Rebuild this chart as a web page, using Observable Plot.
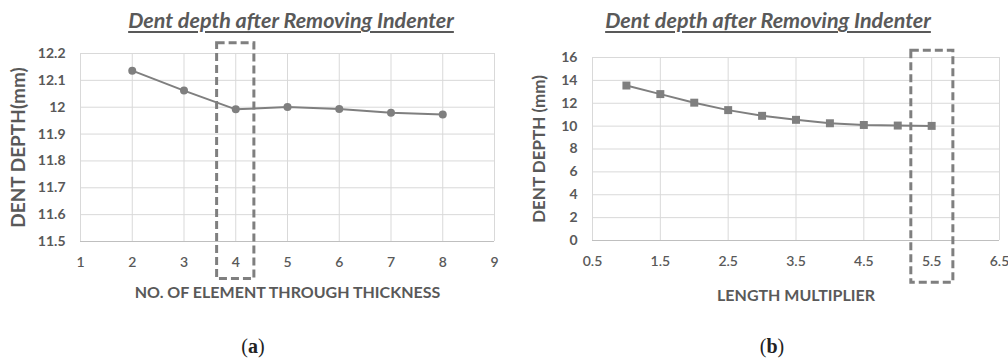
<!DOCTYPE html>
<html>
<head>
<meta charset="utf-8">
<script src="https://cdn.jsdelivr.net/npm/d3@7"></script>
<script src="https://cdn.jsdelivr.net/npm/@observablehq/plot@0.6"></script>
<style>
  html, body { margin: 0; padding: 0; background: #fff; }
  #root { position: relative; width: 1008px; height: 360px; overflow: hidden; background: #fff; }
  .panel { position: absolute; top: 0; }
  .title { position: absolute; transform: translateX(-50%); white-space: nowrap;
           font-family: Lato, "Open Sans", sans-serif; font-weight: bold; font-style: italic;
           font-size: 21.5px; line-height: 22px; color: #595959; text-decoration: underline;
           text-decoration-thickness: 1.5px; text-underline-offset: 3px; }
  .cap { position: absolute; transform: translateX(-50%); white-space: nowrap;
         font-family: "Liberation Serif", "DejaVu Serif", serif; font-size: 20px; line-height: 20px; color: #222; }
</style>
</head>
<body>
<div id="root"></div>
<script>
// ---------- Data (a) ----------
const titleA = "Dent depth after Removing Indenter";
const xLabelA = "NO. OF ELEMENT THROUGH THICKNESS";
const yLabelA = "DENT DEPTH(mm)";
const elementsA = [2, 3, 4, 5, 6, 7, 8];
const depthA = [12.136, 12.062, 11.992, 12.001, 11.993, 11.979, 11.973];
const xTicksA = [1, 2, 3, 4, 5, 6, 7, 8, 9];
const yTicksA = [11.5, 11.6, 11.7, 11.8, 11.9, 12, 12.1, 12.2];
const boxA = [{x1: 3.64, x2: 4.36, y1: 11.36, y2: 12.238}];
const captionA = "a";

// ---------- Data (b) ----------
const titleB = "Dent depth after Removing Indenter";
const xLabelB = "LENGTH MULTIPLIER";
const yLabelB = "DENT DEPTH (mm)";
const multiplierB = [1, 1.5, 2, 2.5, 3, 3.5, 4, 4.5, 5, 5.5];
const depthB = [13.55, 12.8, 12.05, 11.4, 10.9, 10.55, 10.25, 10.1, 10.05, 10.02];
const xTicksB = [0.5, 1.5, 2.5, 3.5, 4.5, 5.5, 6.5];
const yTicksB = [0, 2, 4, 6, 8, 10, 12, 14, 16];
const boxB = [{x1: 5.2, x2: 5.82, y1: -3.69, y2: 16.58}];
const captionB = "b";

const gridColor = "#d9d9d9";
const axisColor = "#bfbfbf";
const seriesColor = "#7f7f7f";
const textColor = "#595959";

function panel({xs, ys, xTicks, yTicks, xDomain, yDomain, box, symbol, r, xLabel, yLabel,
                width, margins, yLabelDx, xLabelDy, yLabelSize}) {
  const data = xs.map((x, i) => ({x, y: ys[i]}));
  return Plot.plot({
    width, height: 360,
    marginLeft: margins[0], marginRight: margins[1], marginTop: margins[2], marginBottom: margins[3],
    style: {fontFamily: "Lato, 'Open Sans', sans-serif", fontSize: "14px", color: textColor, background: "transparent", overflow: "visible"},
    x: {domain: xDomain},
    y: {domain: yDomain},
    marks: [
      Plot.gridX(xTicks, {stroke: gridColor, strokeOpacity: 1, strokeWidth: 1}),
      Plot.gridY(yTicks, {stroke: gridColor, strokeOpacity: 1, strokeWidth: 1}),
      Plot.ruleY([yDomain[0]], {stroke: axisColor, strokeWidth: 1.2}),
      Plot.axisX(xTicks, {tickSize: 0, tickPadding: 16, tickFormat: d => String(d), fill: textColor, fontSize: 14, fontWeight: 600, label: null}),
      Plot.axisY(yTicks, {tickSize: 0, tickPadding: 15, tickFormat: d => String(d), fill: textColor, fontSize: 14, fontWeight: "bold", label: null}),
      Plot.text([xLabel], {frameAnchor: "bottom", dy: xLabelDy, text: d => d, fill: textColor, fontWeight: "bold", fontSize: 16}),
      Plot.text([yLabel], {frameAnchor: "left", textAnchor: "middle", dx: yLabelDx, rotate: -90, text: d => d, fill: textColor, fontWeight: "bold", fontSize: yLabelSize}),
      Plot.line(data, {x: "x", y: "y", stroke: seriesColor, strokeWidth: 2}),
      Plot.dot(data, {x: "x", y: "y", r, symbol, fill: seriesColor, stroke: "none"}),
      Plot.rect(box, {x1: "x1", x2: "x2", y1: "y1", y2: "y2", fill: "none", stroke: seriesColor, strokeWidth: 3, strokeDasharray: "8,4"})
    ]
  });
}

const root = document.getElementById("root");

const plotA = panel({
  xs: elementsA, ys: depthA, xTicks: xTicksA, yTicks: yTicksA,
  xDomain: [1, 9], yDomain: [11.5, 12.2], box: boxA, symbol: "circle", r: 4,
  xLabel: xLabelA, yLabel: yLabelA, width: 504, margins: [80, 10, 53, 119],
  yLabelDx: -62, xLabelDy: 56, yLabelSize: 19
});
const divA = document.createElement("div");
divA.className = "panel"; divA.style.left = "0px";
divA.appendChild(plotA);
root.appendChild(divA);

const plotB = panel({
  xs: multiplierB, ys: depthB, xTicks: xTicksB, yTicks: yTicksB,
  xDomain: [0.5, 6.5], yDomain: [0, 16], box: boxB, symbol: "square", r: 4.5,
  xLabel: xLabelB, yLabel: yLabelB, width: 504, margins: [88, 9, 57, 120],
  yLabelDx: -53, xLabelDy: 60, yLabelSize: 17
});
const divB = document.createElement("div");
divB.className = "panel"; divB.style.left = "504px";
divB.appendChild(plotB);
root.appendChild(divB);

function addText(cls, text, left, top, html) {
  const d = document.createElement("div");
  d.className = cls;
  d.style.left = left + "px";
  d.style.top = top + "px";
  if (html) d.innerHTML = html; else d.textContent = text;
  root.appendChild(d);
}
addText("title", titleA, 291, 9);
addText("title", titleB, 768, 9);
addText("cap", null, 253, 336, "(<b>" + captionA + "</b>)");
addText("cap", null, 772, 336, "(<b>" + captionB + "</b>)");
</script>
</body>
</html>
